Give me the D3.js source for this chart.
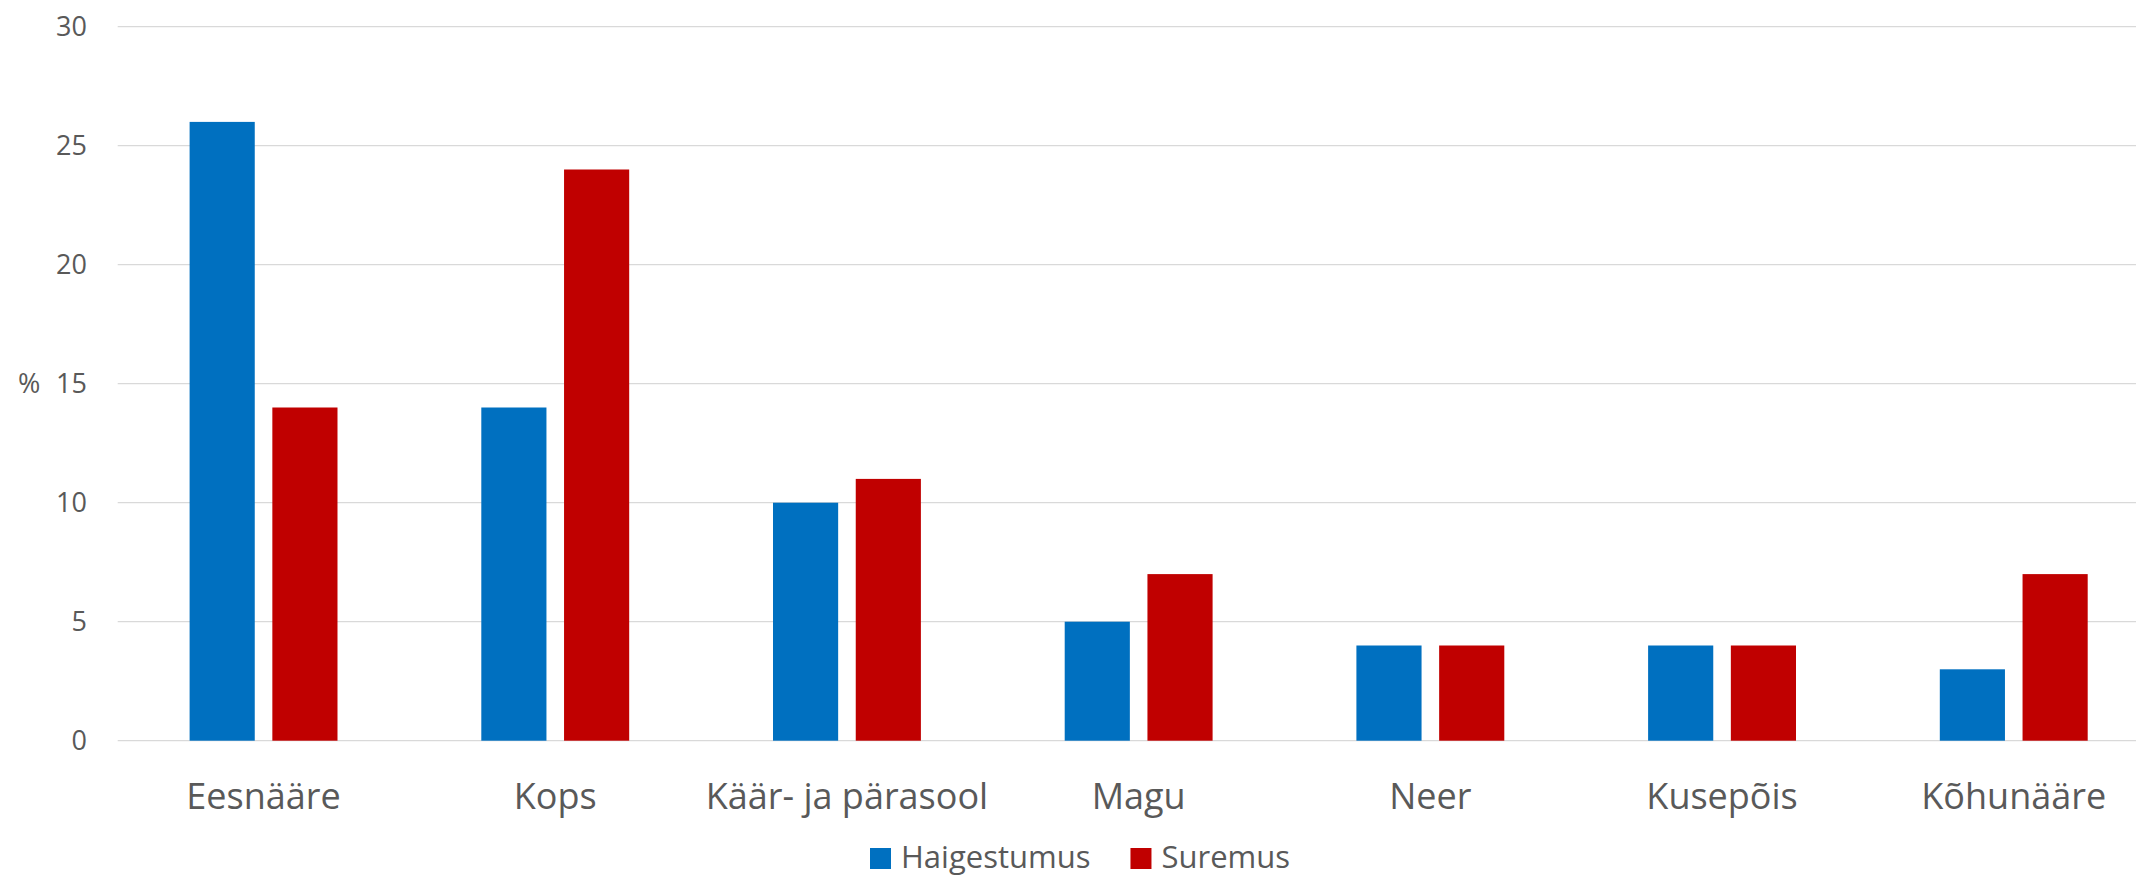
<!DOCTYPE html>
<html>
<head>
<meta charset="utf-8">
<script src="https://cdn.jsdelivr.net/npm/d3@7"></script>
<style>
  body { margin: 0; background: #fff; }
  text { font-family: "Open Sans", sans-serif; fill: #595959; }
</style>
</head>
<body>
<div id="chart"></div>
<script>
var width = 2136,
    height = 878;

// data
var categories = ["Eesnääre", "Kops", "Käär- ja pärasool", "Magu", "Neer", "Kusepõis", "Kõhunääre"];
var series = ["Haigestumus", "Suremus"];
var haigestumus = [26, 14, 10, 5, 4, 4, 3];
var suremus = [14, 24, 11, 7, 4, 4, 7];
var yTicks = [0, 5, 10, 15, 20, 25, 30];
var colors = ["#0070C0", "#C00000"];

var rows = categories.map((c, i) => ({cat: c, values: [haigestumus[i], suremus[i]]}));

var svg = d3.select('#chart').append('svg')
    .attr('width', width)
    .attr('height', height);

// plot area runs a bit past the right edge, like the original
let plotLeft = 117.7, plotRight = 2159.6;
let scaleX = d3.scaleBand().domain(categories).range([plotLeft, plotRight]);
let scaleY = d3.scaleLinear().domain([0, 30]).range([740.7, 26.7]);

// bars inside each category
let groupW = scaleX.bandwidth() * 0.507;
let scaleX1 = d3.scaleBand().domain(series).range([0, groupW]).paddingInner(0.2126);
let scaleC = d3.scaleOrdinal().domain(series).range(colors);

// gridlines
svg.append('g').selectAll('line').data(yTicks).enter()
    .append('line')
    .attr('x1', plotLeft)
    .attr('x2', width)
    .attr('y1', d => scaleY(d))
    .attr('y2', d => scaleY(d))
    .attr('stroke', '#d9d9d9')
    .attr('stroke-width', 1.3);

// y axis labels
var axisY = d3.axisLeft(scaleY).tickValues(yTicks).tickSize(0).tickPadding(0);
var axis = svg.append('g').attr('transform', 'translate(87,0)').call(axisY);
axis.select('.domain').remove();
axis.selectAll('text')
    .attr('font-family', '"Open Sans", sans-serif')
    .attr('font-size', 27)
    .attr('fill', '#595959');

svg.append('text')
    .attr('x', 18)
    .attr('y', scaleY(15))
    .attr('dy', '0.35em')
    .attr('font-size', 27)
    .text('%');

// bars
let groups = svg.append('g').selectAll('g').data(rows).enter()
    .append('g')
    .attr('transform', d => 'translate(' + (scaleX(d.cat) + (scaleX.bandwidth() - groupW) / 2) + ',0)');

groups.selectAll('rect').data(d => d.values.map((v, i) => ({s: series[i], v: v}))).enter()
    .append('rect')
    .attr('x', d => scaleX1(d.s))
    .attr('width', scaleX1.bandwidth())
    .attr('y', d => scaleY(d.v))
    .attr('height', d => scaleY(0) - scaleY(d.v))
    .attr('fill', d => scaleC(d.s));

// category labels
var axisX = d3.axisBottom(scaleX).tickSize(0).tickPadding(0);
var xAxis = svg.append('g').attr('transform', 'translate(0,' + 809 + ')').call(axisX);
xAxis.select('.domain').remove();
xAxis.selectAll('text')
    .attr('dy', 0)
    .attr('font-family', '"Open Sans", sans-serif')
    .attr('font-size', 36)
    .attr('fill', '#595959');

// legend (kept just inside the bottom edge)
let legend = svg.append('g');
let lx = 870;
series.forEach((s, i) => {
    let item = legend.append('g').attr('transform', 'translate(' + lx + ',0)');
    item.append('rect')
        .attr('x', 0)
        .attr('y', 848)
        .attr('width', 21)
        .attr('height', 21)
        .attr('fill', scaleC(s));
    let t = item.append('text')
        .attr('x', 31)
        .attr('y', 868)
        .attr('font-size', 31)
        .text(s);
    lx += 31 + t.node().getComputedTextLength() + 40;
});
</script>
</body>
</html>
